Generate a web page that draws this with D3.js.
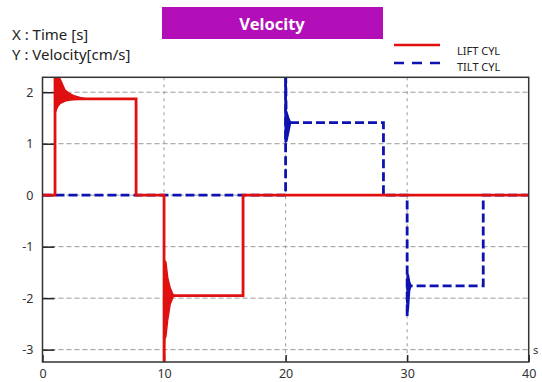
<!DOCTYPE html>
<html>
<head>
<meta charset="utf-8">
<script src="https://cdn.jsdelivr.net/npm/d3@7"></script>
<style>
  body { margin: 0; background: #fff; }
  text { font-family: "Noto Sans", "Noto Sans CJK KR", sans-serif; }
</style>
</head>
<body>
<div id="chart"></div>
<script>
// time [s], velocity [cm/s] corner points of each series
const liftPoints = [
  [0, 0], [1.03, 0], [1.03, 2.6], [1.1, 1.87], [7.7, 1.87], [7.7, 0],
  [10, 0], [10, -3.5], [10.05, -1.95], [16.5, -1.95], [16.5, 0], [40, 0]
];
const tiltPoints = [
  [0, 0], [20, 0], [20, 2.6], [20.05, 1.41], [28.05, 1.41], [28.05, 0],
  [30, 0], [30, -2.36], [30.05, -1.76], [36.26, -1.76], [36.26, 0], [40, 0]
];
// oscillation envelopes: [t, upper, lower]
const liftBurst1 = [
  [1.03, 2.6, 1.59], [1.22, 2.4, 1.71], [1.44, 2.26, 1.78], [1.85, 2.04, 1.83],
  [2.26, 1.97, 1.85], [2.6, 1.93, 1.86], [3.08, 1.9, 1.865], [3.5, 1.875, 1.87]
];
const liftBurst2 = [
  [10, -1.26, -2.81], [10.15, -1.3, -2.75], [10.3, -1.6, -2.42],
  [10.5, -1.8, -2.12], [10.75, -1.94, -1.97], [10.9, -1.95, -1.955]
];
const tiltBurst1 = [
  [20, 1.65, 1.03], [20.1, 1.62, 1.05], [20.25, 1.5, 1.22], [20.4, 1.42, 1.4]
];
const tiltBurst2 = [
  [30, -1.52, -2.29], [30.1, -1.55, -2.2], [30.2, -1.68, -1.85], [30.3, -1.75, -1.77]
];
const yTicks = [-3, -2, -1, 0, 1, 2];
const xTicks = [0, 10, 20, 30, 40];
const xGrid = [10, 20, 30];

const W = 542, H = 382;
const plot = { left: 42.5, right: 528.7, top: 77.3, bottom: 362 };
const RED = '#e01010';
const BLUE = '#0d12b0';

const svg = d3.select('#chart').append('svg')
  .attr('width', W).attr('height', H);

const x = d3.scaleLinear().domain([0, 40]).range([plot.left, plot.right]);
const y = d3.scaleLinear().domain([-3.24, 2.29]).range([plot.bottom, plot.top]);

// title box
svg.append('rect')
  .attr('x', 162).attr('y', 7).attr('width', 221).attr('height', 32)
  .attr('fill', '#b30fb9');
svg.append('text')
  .attr('x', 272).attr('y', 29.5)
  .attr('text-anchor', 'middle')
  .attr('fill', '#fff').attr('font-weight', 'bold').attr('font-size', 16.5)
  .text('Velocity');

svg.append('text').attr('x', 12).attr('y', 40)
  .attr('font-size', 15).attr('fill', '#222').text('X : Time [s]');
svg.append('text').attr('x', 12).attr('y', 60)
  .attr('font-size', 15).attr('fill', '#222').text('Y : Velocity[cm/s]');

// legend
svg.append('line').attr('x1', 394).attr('x2', 440).attr('y1', 45).attr('y2', 45)
  .attr('stroke', RED).attr('stroke-width', 2.5);
svg.append('line').attr('x1', 394).attr('x2', 440).attr('y1', 63).attr('y2', 63)
  .attr('stroke', BLUE).attr('stroke-width', 2.5).attr('stroke-dasharray', '10,8');
svg.append('text').attr('x', 457).attr('y', 55)
  .attr('font-size', 11).attr('fill', '#222').text('LIFT CYL');
svg.append('text').attr('x', 457).attr('y', 71)
  .attr('font-size', 11).attr('fill', '#222').text('TILT CYL');

// grid
const g = svg.append('g');
g.selectAll('.hgrid').data(yTicks).enter().append('line')
  .attr('x1', plot.left).attr('x2', plot.right)
  .attr('y1', d => y(d)).attr('y2', d => y(d))
  .attr('stroke', '#999').attr('stroke-width', 1).attr('stroke-dasharray', '5,3');
g.selectAll('.vgrid').data(xGrid).enter().append('line')
  .attr('x1', d => x(d)).attr('x2', d => x(d))
  .attr('y1', plot.top).attr('y2', plot.bottom)
  .attr('stroke', '#999').attr('stroke-width', 1).attr('stroke-dasharray', '3,4');

// axes
const fmt = d => String(d);
const yAxis = d3.axisLeft(y).tickValues(yTicks).tickFormat(fmt).tickSize(-12).tickPadding(9);
const xAxis = d3.axisBottom(x).tickValues(xTicks).tickFormat(fmt).tickSize(-7).tickPadding(7);

const ya = svg.append('g').attr('transform', `translate(${plot.left},0)`).call(yAxis);
const xa = svg.append('g').attr('transform', `translate(0,${plot.bottom})`).call(xAxis);
[ya, xa].forEach(a => {
  a.select('.domain').remove();
  a.selectAll('.tick line').attr('stroke', '#222').attr('stroke-width', 1.5);
  a.selectAll('.tick text').attr('font-size', 12.5).attr('fill', '#333')
    .attr('font-family', '"Noto Sans", sans-serif');
});

svg.append('text').attr('x', 533).attr('y', y(-3) + 4)
  .attr('font-size', 11).attr('fill', '#333').text('s');

// clip for data
svg.append('clipPath').attr('id', 'clip').append('rect')
  .attr('x', plot.left).attr('y', plot.top)
  .attr('width', plot.right - plot.left).attr('height', plot.bottom - plot.top);

const data = svg.append('g').attr('clip-path', 'url(#clip)');

const line = d3.line().x(d => x(d[0])).y(d => y(d[1]));
const area = d3.area().x(d => x(d[0])).y0(d => y(d[2])).y1(d => y(d[1]));

// tilt first, lift drawn over it
data.append('path').datum(tiltPoints)
  .attr('d', line).attr('fill', 'none')
  .attr('stroke', BLUE).attr('stroke-width', 2.8).attr('stroke-dasharray', '9,4');
// solid spike top at t=20
data.append('path').datum([[20, 2.6], [20, 1.03]])
  .attr('d', line).attr('stroke', BLUE).attr('stroke-width', 2.2);
[tiltBurst1, tiltBurst2].forEach(b => {
  data.append('path').datum(b).attr('d', area)
    .attr('fill', BLUE).attr('stroke', BLUE).attr('stroke-width', 1.5);
});

data.append('path').datum(liftPoints)
  .attr('d', line).attr('fill', 'none')
  .attr('stroke', RED).attr('stroke-width', 2.8);
[liftBurst1, liftBurst2].forEach(b => {
  data.append('path').datum(b).attr('d', area)
    .attr('fill', RED).attr('stroke', RED).attr('stroke-width', 1.5);
});

// frame
svg.append('rect')
  .attr('x', plot.left).attr('y', plot.top)
  .attr('width', plot.right - plot.left).attr('height', plot.bottom - plot.top)
  .attr('fill', 'none').attr('stroke', '#333').attr('stroke-width', 1.5);
</script>
</body>
</html>
